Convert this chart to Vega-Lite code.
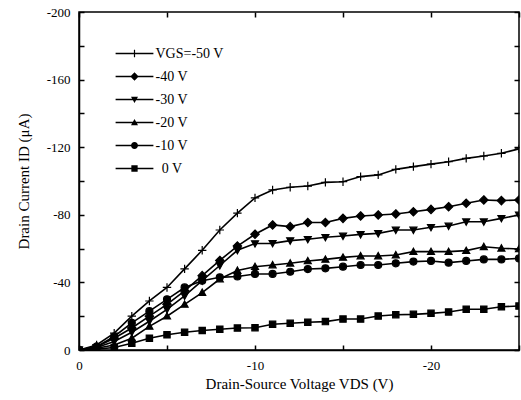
{
  "$schema": "https://vega.github.io/schema/vega-lite/v6.json",
  "width": 440,
  "height": 338,
  "autosize": {"type": "none"},
  "padding": {"left": 79, "top": 12, "right": 2, "bottom": 50},
  "background": "white",
  "config": {
    "view": {"stroke": "black", "strokeWidth": 1.5},
    "axis": {
      "labelFont": "Liberation Serif", "titleFont": "Liberation Serif",
      "labelFontSize": 13, "titleFontSize": 15, "titleFontWeight": "normal",
      "labelColor": "black", "titleColor": "black", "tickColor": "black", "domainColor": "black",
      "tickSize": -5, "tickWidth": 1.5, "domainWidth": 1.5, "grid": false, "labelPadding": 14, "labelFlush": false
    }
  },
  "data": {"values": [
    {"vgs":"-50 V","vds":0,"id":0},{"vgs":"-50 V","vds":-1,"id":-3},{"vgs":"-50 V","vds":-2,"id":-10},{"vgs":"-50 V","vds":-3,"id":-20},{"vgs":"-50 V","vds":-4,"id":-29},{"vgs":"-50 V","vds":-5,"id":-37},{"vgs":"-50 V","vds":-6,"id":-48},{"vgs":"-50 V","vds":-7,"id":-59},{"vgs":"-50 V","vds":-8,"id":-71},{"vgs":"-50 V","vds":-9,"id":-81},{"vgs":"-50 V","vds":-10,"id":-90},{"vgs":"-50 V","vds":-11,"id":-94.7},{"vgs":"-50 V","vds":-12,"id":-96.3},{"vgs":"-50 V","vds":-13,"id":-97},{"vgs":"-50 V","vds":-14,"id":-99.2},{"vgs":"-50 V","vds":-15,"id":-99.6},{"vgs":"-50 V","vds":-16,"id":-102.6},{"vgs":"-50 V","vds":-17,"id":-103.6},{"vgs":"-50 V","vds":-18,"id":-106.9},{"vgs":"-50 V","vds":-19,"id":-108.5},{"vgs":"-50 V","vds":-20,"id":-110},{"vgs":"-50 V","vds":-21,"id":-111.4},{"vgs":"-50 V","vds":-22,"id":-113.4},{"vgs":"-50 V","vds":-23,"id":-114.8},{"vgs":"-50 V","vds":-24,"id":-116.4},{"vgs":"-50 V","vds":-25,"id":-119},
    {"vgs":"-40 V","vds":0,"id":0},{"vgs":"-40 V","vds":-1,"id":-2},{"vgs":"-40 V","vds":-2,"id":-7},{"vgs":"-40 V","vds":-3,"id":-13},{"vgs":"-40 V","vds":-4,"id":-20},{"vgs":"-40 V","vds":-5,"id":-27},{"vgs":"-40 V","vds":-6,"id":-35},{"vgs":"-40 V","vds":-7,"id":-44},{"vgs":"-40 V","vds":-8,"id":-53},{"vgs":"-40 V","vds":-9,"id":-61.5},{"vgs":"-40 V","vds":-10,"id":-68.5},{"vgs":"-40 V","vds":-11,"id":-74},{"vgs":"-40 V","vds":-12,"id":-73},{"vgs":"-40 V","vds":-13,"id":-75.4},{"vgs":"-40 V","vds":-14,"id":-75.4},{"vgs":"-40 V","vds":-15,"id":-77.9},{"vgs":"-40 V","vds":-16,"id":-79.3},{"vgs":"-40 V","vds":-17,"id":-79.9},{"vgs":"-40 V","vds":-18,"id":-80.5},{"vgs":"-40 V","vds":-19,"id":-81.8},{"vgs":"-40 V","vds":-20,"id":-83.2},{"vgs":"-40 V","vds":-21,"id":-84.8},{"vgs":"-40 V","vds":-22,"id":-86.8},{"vgs":"-40 V","vds":-23,"id":-88.8},{"vgs":"-40 V","vds":-24,"id":-88.4},{"vgs":"-40 V","vds":-25,"id":-88.8},
    {"vgs":"-30 V","vds":0,"id":0},{"vgs":"-30 V","vds":-1,"id":-1.5},{"vgs":"-30 V","vds":-2,"id":-5},{"vgs":"-30 V","vds":-3,"id":-10.5},{"vgs":"-30 V","vds":-4,"id":-17},{"vgs":"-30 V","vds":-5,"id":-24},{"vgs":"-30 V","vds":-6,"id":-32},{"vgs":"-30 V","vds":-7,"id":-41},{"vgs":"-30 V","vds":-8,"id":-50},{"vgs":"-30 V","vds":-9,"id":-59},{"vgs":"-30 V","vds":-10,"id":-63},{"vgs":"-30 V","vds":-11,"id":-63.1},{"vgs":"-30 V","vds":-12,"id":-64.7},{"vgs":"-30 V","vds":-13,"id":-65.5},{"vgs":"-30 V","vds":-14,"id":-66.7},{"vgs":"-30 V","vds":-15,"id":-67.5},{"vgs":"-30 V","vds":-16,"id":-68.4},{"vgs":"-30 V","vds":-17,"id":-69},{"vgs":"-30 V","vds":-18,"id":-71},{"vgs":"-30 V","vds":-19,"id":-71},{"vgs":"-30 V","vds":-20,"id":-72.6},{"vgs":"-30 V","vds":-21,"id":-73.4},{"vgs":"-30 V","vds":-22,"id":-75.9},{"vgs":"-30 V","vds":-23,"id":-75.9},{"vgs":"-30 V","vds":-24,"id":-77.9},{"vgs":"-30 V","vds":-25,"id":-79.9},
    {"vgs":"-20 V","vds":0,"id":0},{"vgs":"-20 V","vds":-1,"id":-1},{"vgs":"-20 V","vds":-2,"id":-3},{"vgs":"-20 V","vds":-3,"id":-7},{"vgs":"-20 V","vds":-4,"id":-14},{"vgs":"-20 V","vds":-5,"id":-20},{"vgs":"-20 V","vds":-6,"id":-27},{"vgs":"-20 V","vds":-7,"id":-34},{"vgs":"-20 V","vds":-8,"id":-42},{"vgs":"-20 V","vds":-9,"id":-47},{"vgs":"-20 V","vds":-10,"id":-49.3},{"vgs":"-20 V","vds":-11,"id":-50.3},{"vgs":"-20 V","vds":-12,"id":-51.3},{"vgs":"-20 V","vds":-13,"id":-52.7},{"vgs":"-20 V","vds":-14,"id":-53.6},{"vgs":"-20 V","vds":-15,"id":-54.8},{"vgs":"-20 V","vds":-16,"id":-55.6},{"vgs":"-20 V","vds":-17,"id":-55.6},{"vgs":"-20 V","vds":-18,"id":-56.2},{"vgs":"-20 V","vds":-19,"id":-58.2},{"vgs":"-20 V","vds":-20,"id":-58.2},{"vgs":"-20 V","vds":-21,"id":-58.2},{"vgs":"-20 V","vds":-22,"id":-58.8},{"vgs":"-20 V","vds":-23,"id":-61.1},{"vgs":"-20 V","vds":-24,"id":-60.2},{"vgs":"-20 V","vds":-25,"id":-59.8},
    {"vgs":"-10 V","vds":0,"id":0},{"vgs":"-10 V","vds":-1,"id":-2},{"vgs":"-10 V","vds":-2,"id":-8},{"vgs":"-10 V","vds":-3,"id":-16},{"vgs":"-10 V","vds":-4,"id":-23},{"vgs":"-10 V","vds":-5,"id":-30},{"vgs":"-10 V","vds":-6,"id":-37},{"vgs":"-10 V","vds":-7,"id":-41},{"vgs":"-10 V","vds":-8,"id":-43},{"vgs":"-10 V","vds":-9,"id":-43.5},{"vgs":"-10 V","vds":-10,"id":-45},{"vgs":"-10 V","vds":-11,"id":-45},{"vgs":"-10 V","vds":-12,"id":-46.3},{"vgs":"-10 V","vds":-13,"id":-47.9},{"vgs":"-10 V","vds":-14,"id":-48.3},{"vgs":"-10 V","vds":-15,"id":-49.3},{"vgs":"-10 V","vds":-16,"id":-50.3},{"vgs":"-10 V","vds":-17,"id":-50.3},{"vgs":"-10 V","vds":-18,"id":-51.3},{"vgs":"-10 V","vds":-19,"id":-52.3},{"vgs":"-10 V","vds":-20,"id":-52.7},{"vgs":"-10 V","vds":-21,"id":-51.7},{"vgs":"-10 V","vds":-22,"id":-52.7},{"vgs":"-10 V","vds":-23,"id":-53.6},{"vgs":"-10 V","vds":-24,"id":-53.6},{"vgs":"-10 V","vds":-25,"id":-54.2},
    {"vgs":"0 V","vds":0,"id":0},{"vgs":"0 V","vds":-1,"id":-0.5},{"vgs":"0 V","vds":-2,"id":-1.5},{"vgs":"0 V","vds":-3,"id":-4},{"vgs":"0 V","vds":-4,"id":-7},{"vgs":"0 V","vds":-5,"id":-9},{"vgs":"0 V","vds":-6,"id":-10.5},{"vgs":"0 V","vds":-7,"id":-11.5},{"vgs":"0 V","vds":-8,"id":-12.3},{"vgs":"0 V","vds":-9,"id":-13},{"vgs":"0 V","vds":-10,"id":-13.2},{"vgs":"0 V","vds":-11,"id":-15.2},{"vgs":"0 V","vds":-12,"id":-15.8},{"vgs":"0 V","vds":-13,"id":-16.4},{"vgs":"0 V","vds":-14,"id":-16.8},{"vgs":"0 V","vds":-15,"id":-18.3},{"vgs":"0 V","vds":-16,"id":-18.3},{"vgs":"0 V","vds":-17,"id":-20.1},{"vgs":"0 V","vds":-18,"id":-20.9},{"vgs":"0 V","vds":-19,"id":-21.1},{"vgs":"0 V","vds":-20,"id":-21.7},{"vgs":"0 V","vds":-21,"id":-22.5},{"vgs":"0 V","vds":-22,"id":-24.1},{"vgs":"0 V","vds":-23,"id":-24.1},{"vgs":"0 V","vds":-24,"id":-25.6},{"vgs":"0 V","vds":-25,"id":-26}
  ]},
  "layer": [
    {
      "mark": {"type": "line", "color": "black", "strokeWidth": 1.6, "clip": true},
      "encoding": {
        "x": {"field": "vds", "type": "quantitative", "scale": {"domain": [0, -25], "nice": false},
              "axis": {"orient": "bottom", "values": [0, -5, -10, -15, -20, -25], "labelExpr": "datum.value % 10 == 0 ? '' + datum.value : ''", "title": "Drain-Source Voltage VDS (V)"}},
        "y": {"field": "id", "type": "quantitative", "scale": {"domain": [0, -200], "nice": false},
              "axis": {"orient": "left", "values": [0, -20, -40, -60, -80, -100, -120, -140, -160, -180, -200], "labelExpr": "datum.value % 40 == 0 ? '' + datum.value : ''", "title": "Drain Current ID (μA)", "titlePadding": 15}},
        "detail": {"field": "vgs", "type": "nominal"}
      }
    },
    {
      "mark": {"type": "point", "filled": false, "fill": "black", "stroke": "black", "strokeWidth": 1.2, "size": 49, "opacity": 1, "clip": true},
      "encoding": {
        "x": {"field": "vds", "type": "quantitative", "axis": null},
        "y": {"field": "id", "type": "quantitative", "axis": null},
        "shape": {"field": "vgs", "type": "nominal", "legend": null,
          "scale": {"domain": ["-50 V", "-40 V", "-30 V", "-20 V", "-10 V", "0 V"],
                    "range": ["M-1.2,0H1.2M0,-1.2V1.2", "M0,-1.2L1.2,0L0,1.2L-1.2,0Z", "M-1,-0.8H1L0,1Z", "M-1,0.8H1L0,-1Z", "M-1,0A1,1,0,1,1,1,0A1,1,0,1,1,-1,0Z", "M-0.9,-0.9H0.9V0.9H-0.9Z"]}
        }
      }
    },
    {
      "transform": [{"filter": "false"}],
      "mark": {"type": "point", "filled": true, "color": "black", "size": 49, "opacity": 1},
      "encoding": {
        "x": {"field": "vds", "type": "quantitative", "axis": null},
        "y": {"field": "id", "type": "quantitative", "axis": null},
        "shape": {"field": "vgs", "type": "nominal",
          "scale": {"domain": ["-50 V", "-40 V", "-30 V", "-20 V", "-10 V", "0 V"],
                    "range": [
                      "M-5.4,-0.2H5.4V0.2H-5.4ZM-0.17,-1.1H0.17V1.1H-0.17Z",
                      "M-5.4,-0.2H5.4V0.2H-5.4ZM0,-1.2L1.2,0L0,1.2L-1.2,0Z",
                      "M-5.4,-0.2H5.4V0.2H-5.4ZM-1,-0.8H1L0,1Z",
                      "M-5.4,-0.2H5.4V0.2H-5.4ZM-1,0.8L0,-1L1,0.8Z",
                      "M-5.4,-0.2H5.4V0.2H-5.4ZM-1,0A1,1,0,1,1,1,0A1,1,0,1,1,-1,0Z",
                      "M-5.4,-0.2H5.4V0.2H-5.4ZM-0.9,-0.9H0.9V0.9H-0.9Z"]},
          "legend": {
            "orient": "none", "legendX": 48.5, "legendY": 34.5, "title": null, "padding": 0,
            "symbolSize": 49, "labelFont": "Liberation Serif", "labelFontSize": 14, "labelColor": "black",
            "labelOffset": 14, "rowPadding": 9, "symbolOpacity": 1,
            "symbolFillColor": "black", "symbolStrokeWidth": 0,
            "labelExpr": "datum.label == '-50 V' ? 'VGS=-50 V' : (datum.label == '0 V' ? '\u200b\u00a0\u20090 V' : datum.label)"
          }
        }
      }
    },
    {
      "mark": {"type": "point", "opacity": 0},
      "encoding": {
        "x": {"field": "vds", "type": "quantitative",
              "axis": {"orient": "top", "values": [0, -5, -10, -15, -20, -25], "labels": false, "title": null, "domain": false}},
        "y": {"field": "id", "type": "quantitative",
              "axis": {"orient": "right", "values": [0, -20, -40, -60, -80, -100, -120, -140, -160, -180, -200], "labels": false, "title": null, "domain": false}}
      }
    }
  ],
  "resolve": {"axis": {"x": "independent", "y": "independent"}, "scale": {"shape": "independent"}}
}
